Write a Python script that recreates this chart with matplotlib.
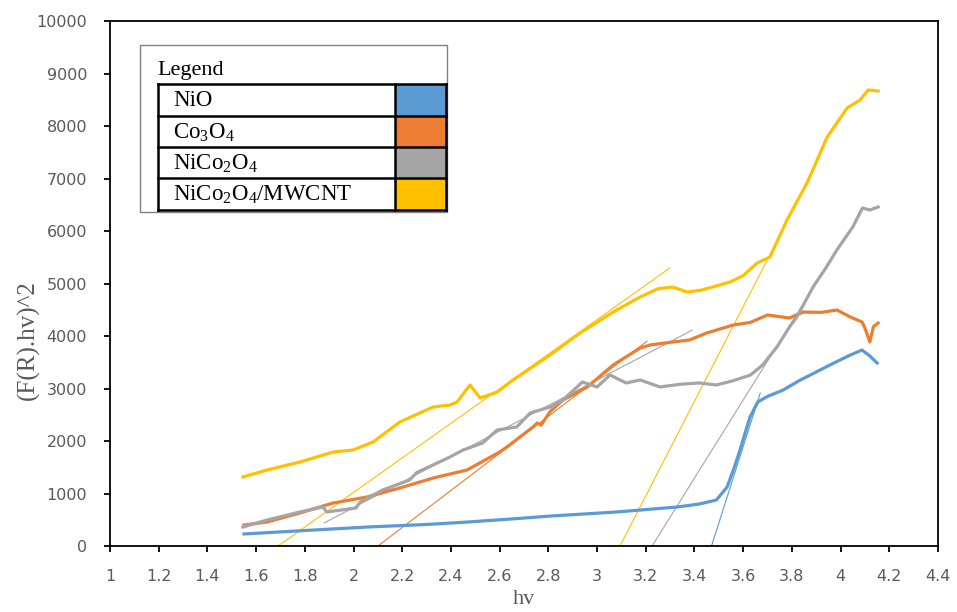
import matplotlib
matplotlib.use("Agg")
import matplotlib.pyplot as plt
from matplotlib.patches import Rectangle

plt.rcParams['mathtext.fontset'] = 'custom'
plt.rcParams['mathtext.rm'] = 'Liberation Serif'
plt.rcParams['mathtext.it'] = 'Liberation Serif:italic'

# ---------------- data ----------------
nio_x = [1.55, 1.8, 2.06, 2.3, 2.47, 2.65, 2.81, 3.08, 3.33, 3.42, 3.49, 3.534, 3.56, 3.587, 3.628, 3.66, 3.70,
         3.764, 3.83, 3.90, 3.97, 4.04, 4.088, 4.12, 4.15]
nio_y = [229, 295, 362, 410, 457, 515, 571, 648, 743, 800, 876, 1124, 1450, 1829, 2457, 2743, 2850,
         2971, 3150, 3314, 3480, 3638, 3733, 3620, 3486]

co_x = [1.55, 1.645, 1.78, 1.916, 2.055, 2.19, 2.327, 2.466, 2.6, 2.63, 2.737, 2.754, 2.77, 2.807, 2.86, 2.96,
        3.066, 3.177, 3.218, 3.30, 3.38, 3.45, 3.56, 3.63, 3.70, 3.79, 3.846, 3.92, 3.985, 4.04, 4.088,
        4.10, 4.12, 4.135, 4.154]
co_y = [400, 457, 629, 819, 933, 1105, 1295, 1448, 1790, 1886, 2267, 2343, 2300, 2560, 2781, 3029,
        3448, 3771, 3829, 3880, 3924, 4057, 4210, 4260, 4400, 4343, 4457, 4450, 4495, 4362, 4267,
        4150, 3886, 4180, 4248]

nc_x = [1.546, 1.645, 1.78, 1.875, 1.89, 2.01, 2.027, 2.12, 2.23, 2.26, 2.396, 2.45, 2.53, 2.59, 2.67, 2.725,
        2.807, 2.86, 2.94, 3.0, 3.053, 3.12, 3.177, 3.259, 3.34, 3.42, 3.49, 3.56, 3.63, 3.68, 3.74,
        3.79, 3.82, 3.887, 3.94, 3.985, 4.05, 4.09, 4.12, 4.154]
nc_y = [362, 495, 648, 743, 648, 724, 838, 1067, 1257, 1400, 1695, 1829, 1962, 2210, 2267, 2533,
        2648, 2781, 3124, 3029, 3257, 3105, 3162, 3029, 3080, 3105, 3067, 3150, 3257, 3448, 3800,
        4171, 4360, 4933, 5300, 5640, 6076, 6438, 6400, 6457]

mw_x = [1.546, 1.645, 1.78, 1.916, 1.998, 2.08, 2.19, 2.327, 2.396, 2.425, 2.478, 2.52, 2.59, 2.655, 2.795,
        2.93, 3.066, 3.177, 3.25, 3.31, 3.37, 3.43, 3.546, 3.60, 3.657, 3.71, 3.78, 3.862, 3.945, 4.027,
        4.08, 4.113, 4.154]
mw_y = [1314, 1448, 1600, 1790, 1829, 1981, 2362, 2648, 2686, 2743, 3067, 2819, 2933, 3162, 3600,
        4057, 4457, 4743, 4900, 4933, 4838, 4876, 5028, 5150, 5390, 5505, 6210, 6914, 7790, 8343,
        8495, 8686, 8667]

# tangent (Tauc) lines: (x_start, y_start, x_end, y_end)
tan_nio = [(3.47, 0, 3.67, 2910)]
tan_co = [(2.10, 0, 3.205, 3900)]
tan_nc = [(1.88, 440, 3.39, 4110), (3.226, 0, 3.985, 5640)]
tan_mw = [(1.69, 0, 3.30, 5300), (3.094, 0, 3.72, 5640)]

labels = ["NiO", r"Co$\mathregular{_3}$O$\mathregular{_4}$", r"NiCo$\mathregular{_2}$O$\mathregular{_4}$",
          r"NiCo$\mathregular{_2}$O$\mathregular{_4}$/MWCNT"]
colors = ["#5B9BD5", "#ED7D31", "#A5A5A5", "#FFC000"]

xticks = [1, 1.2, 1.4, 1.6, 1.8, 2, 2.2, 2.4, 2.6, 2.8, 3, 3.2, 3.4, 3.6, 3.8, 4, 4.2, 4.4]
xticklabels = ["1", "1.2", "1.4", "1.6", "1.8", "2", "2.2", "2.4", "2.6", "2.8", "3", "3.2", "3.4",
               "3.6", "3.8", "4", "4.2", "4.4"]
yticks = [0, 1000, 2000, 3000, 4000, 5000, 6000, 7000, 8000, 9000, 10000]

# ---------------- figure ----------------
W, H = 957, 612
fig = plt.figure(figsize=(W / 100, H / 100), dpi=100)
ax = fig.add_axes([110 / W, 1 - 546 / H, (938 - 110) / W, (546 - 21) / H])

series = [(nio_x, nio_y), (co_x, co_y), (nc_x, nc_y), (mw_x, mw_y)]
tangents = [tan_nio, tan_co, tan_nc, tan_mw]
for (xs, ys), c in zip(series, colors):
    ax.plot(xs, ys, color=c, lw=2.3, solid_joinstyle='round', zorder=3)
for tl, c in zip(tangents, colors):
    for x0, y0, x1, y1 in tl:
        ax.plot([x0, x1], [y0, y1], color=c, lw=0.8, zorder=2)

ax.set_xlim(1, 4.4)
ax.set_ylim(0, 10000)
ax.set_xticks(xticks)
ax.set_xticklabels(xticklabels)
ax.set_yticks(yticks)
for s in ax.spines.values():
    s.set_color("black")
    s.set_linewidth(1.3)
ax.tick_params(axis='both', direction='out', length=4.5, width=1.3, color='black',
               labelcolor='#595959', labelsize=11.5)
ax.tick_params(axis='y', pad=12)
ax.tick_params(axis='x', pad=12)

fig.text(28 / W, 1 - 340 / H, "(F(R).hv)^2", rotation=90, ha='center', va='center',
         family='Liberation Serif', fontsize=18, color='#595959')
fig.text(524 / W, 1 - 600 / H, "hv", ha='center', va='center',
         family='Liberation Serif', fontsize=16, color='#595959')

# ---------------- legend (table style) ----------------
lx0, ly0, lx1, ly1 = 140, 45, 447, 212
lax = fig.add_axes([lx0 / W, 1 - ly1 / H, (lx1 - lx0) / W, (ly1 - ly0) / H])
lax.set_xlim(lx0, lx1)
lax.set_ylim(ly1, ly0)
lax.axis('off')
lax.add_patch(Rectangle((lx0, ly0), lx1 - lx0, ly1 - ly0, fill=False, edgecolor='#808080', lw=1.0,
                        clip_on=False))
lax.text(157, 70, "Legend", family='Liberation Serif', fontsize=16, va='center', ha='left', color='black')
rows = [84, 116, 147, 178, 210]
tx0, tx1, tdiv = 158, 446, 395
for i, (lab, c) in enumerate(zip(labels, colors)):
    top, bot = rows[i], rows[i + 1]
    lax.add_patch(Rectangle((tdiv, top), tx1 - tdiv, bot - top, facecolor=c, edgecolor='none',
                            clip_on=False))
    lax.text(173, (top + bot) / 2 + 1, lab, family='Liberation Serif', fontsize=16.5, va='center',
             ha='left', color='black')
for r in rows:
    lax.plot([tx0, tx1], [r, r], color='black', lw=1.8, clip_on=False, solid_capstyle='projecting')
for xv in (tx0, tdiv, tx1):
    lax.plot([xv, xv], [rows[0], rows[-1]], color='black', lw=1.8, clip_on=False,
             solid_capstyle='projecting')

fig.savefig("out.png", dpi=100)
